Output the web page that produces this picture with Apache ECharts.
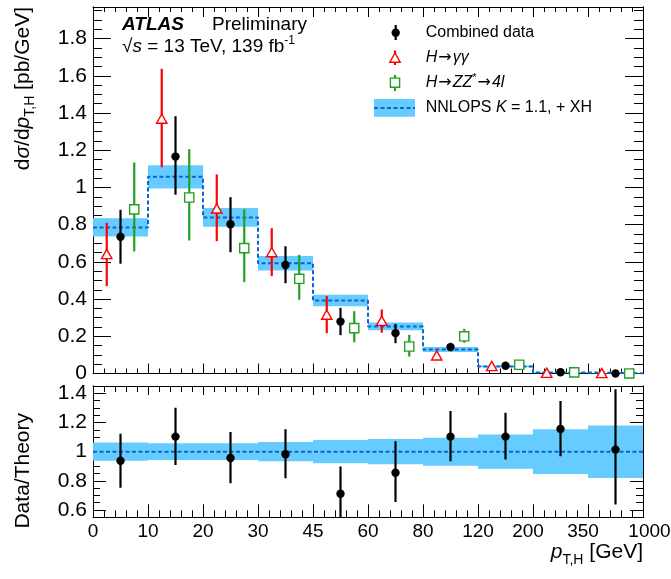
<!DOCTYPE html>
<html><head><meta charset="utf-8">
<script src="https://cdn.jsdelivr.net/npm/echarts@6/dist/echarts.min.js"></script>
<style>html,body{margin:0;padding:0;background:#fff}#c{width:671px;height:579px}</style>
</head><body><div id="c"></div>
<script>
// Bin edges (GeV) shown as equal-width bins
const edgeLabels = ['0','10','20','30','45','60','80','120','200','350','1000'];
// NNLOPS prediction (pb/GeV) and its uncertainty
const nnlops    = [0.785,1.057,0.839,0.593,0.392,0.253,0.129,0.038,0.006,0.0004];
const nnlopsErr = [0.049,0.062,0.050,0.039,0.031,0.021,0.013,0.005,0.001,0.0001];
// Combined data
const combined   = [0.735,1.166,0.802,0.583,0.279,0.217,0.142,0.042,0.007,0.0004];
const combinedLo = [0.590,0.961,0.652,0.485,0.206,0.163,0.121,0.036,0.0058,0.0003];
const combinedHi = [0.880,1.383,0.948,0.684,0.353,0.267,0.165,0.048,0.0081,0.0006];
// H -> gamma gamma
const gg   = [0.640,1.368,0.885,0.650,0.314,0.281,0.095,0.038,0.002,0.0002];
const ggLo = [0.470,1.109,0.711,0.523,0.217,0.219,0.082,0.031,0.001,0.0001];
const ggHi = [0.810,1.638,1.070,0.781,0.416,0.344,0.108,0.045,0.003,0.0003];
// H -> ZZ* -> 4l
const zz   = [0.882,0.946,0.674,0.509,0.244,0.145,0.200,0.047,0.006,0.0003];
const zzLo = [0.656,0.715,0.491,0.396,0.168,0.091,0.165,0.040,0.004,0.0002];
const zzHi = [1.134,1.206,0.883,0.638,0.335,0.208,0.240,0.054,0.008,0.0004];
// Ratio panel
const ratio     = [0.938,1.103,0.956,0.982,0.712,0.856,1.103,1.103,1.155,1.014];
const ratioLo   = [0.753,0.908,0.783,0.817,0.525,0.655,0.934,0.947,0.968,0.637];
const ratioHi   = [1.123,1.301,1.134,1.153,0.899,1.071,1.278,1.267,1.347,1.427];
const ratioBand = [0.062,0.057,0.058,0.066,0.080,0.087,0.096,0.117,0.153,0.180];
const mainTicks  = [0,0.2,0.4,0.6,0.8,1,1.2,1.4,1.6,1.8];
const ratioTicks = [0.6,0.8,1,1.2,1.4];

const FONT = "'Liberation Sans', Arial, Helvetica, sans-serif";
const BAND = '#66ccff', DASH = '#0a64d2', RED = '#ff0000', GREEN = '#22a022';

function marker(shape, cx, cy, color) {
  if (shape === 'circle') return {type:'circle', shape:{cx:cx, cy:cy, r:4.2}, style:{fill:color}};
  if (shape === 'triangle') return {type:'polygon', shape:{points:[[cx,cy-5],[cx-5.2,cy+4.2],[cx+5.2,cy+4.2]]}, style:{fill:'#fff', stroke:color, lineWidth:1.4}};
  return {type:'rect', shape:{x:cx-4.6, y:cy-4.6, width:9.2, height:9.2}, style:{fill:'#fff', stroke:color, lineWidth:1.4}};
}

function pointSeries(vals, lo, hi, off, shape, color, xi, yi, clip) {
  return {
    type:'custom', xAxisIndex:xi, yAxisIndex:yi, clip:clip, z:5,
    data: vals.map((v,i)=>[i+0.5+off, v, lo[i], hi[i]]),
    encode:{x:0, y:1},
    renderItem: function(params, api) {
      const x = api.value(0);
      const p = api.coord([x, api.value(1)]);
      const pl = api.coord([x, api.value(2)]);
      const ph = api.coord([x, api.value(3)]);
      return {type:'group', children:[
        {type:'line', shape:{x1:p[0], y1:pl[1], x2:p[0], y2:ph[1]}, style:{stroke:color, lineWidth:2.2}},
        marker(shape, p[0], p[1], color)
      ]};
    }
  };
}

function bandSeries(center, err, xi, yi, relative) {
  return {
    type:'custom', xAxisIndex:xi, yAxisIndex:yi, z:1, clip:true,
    data: center.map((v,i)=> relative ? [i, 1-err[i], 1+err[i]] : [i, v-err[i], v+err[i]]),
    encode:{x:0, y:[1,2]},
    renderItem: function(params, api) {
      const a = api.coord([api.value(0), api.value(2)]);
      const b = api.coord([api.value(0)+1, api.value(1)]);
      return {type:'rect', shape:{x:a[0], y:a[1], width:b[0]-a[0], height:Math.max(b[1]-a[1],0.8)}, style:{fill:BAND}};
    }
  };
}

const tickLine = {color:'#000', width:1};
function xAx(grid, pos, showLabel, major, minor) {
  return {
    type:'value', gridIndex:grid, position:pos, min:0, max:10, interval:1,
    axisLine:{show:true, onZero:false, lineStyle:{color:'#000', width:1}},
    axisTick:{show:true, inside:true, length:major, lineStyle:tickLine},
    minorTick:{show:true, splitNumber:5, length:minor, lineStyle:tickLine},
    splitLine:{show:false},
    axisLabel:{show:showLabel, showMinLabel:true, showMaxLabel:true, fontSize:19, fontFamily:FONT, color:'#000', margin:5,
      formatter: function(v){ const s = edgeLabels[Math.round(v)]; if (s==='200'||s==='350') return '{l|'+s+'}'; if (s==='1000') return '{r|'+s+'}'; return s; },
      rich:{
        l:{fontSize:19, fontFamily:FONT, color:'#000', padding:[0,10,0,0]},
        r:{fontSize:19, fontFamily:FONT, color:'#000', padding:[0,0,0,13]}
      }}
  };
}
function yMajor(grid, pos, showLabel, min, max, ticks, len) {
  return {
    type:'value', gridIndex:grid, position:pos, min:min, max:max, splitNumber:5,
    interval: min === 0 ? 0.2 : undefined,
    axisLine:{show:true, onZero:false, lineStyle:{color:'#000', width:1}},
    axisTick:{show:true, inside:true, length:len, lineStyle:tickLine, customValues:ticks},
    minorTick:{show:false},
    splitLine:{show:false},
    axisLabel:{show:showLabel, customValues:ticks, showMinLabel:true, showMaxLabel:true, fontSize:21, fontFamily:FONT, color:'#000', margin:6,
      formatter: function(v){ const r = Math.round(v*10)/10; return Math.abs(r-v) < 1e-6 && Math.abs(r*5 - Math.round(r*5)) < 1e-6 ? String(r) : ''; }}
  };
}
function yMinor(grid, pos, min, max, len) {
  return {
    type:'value', gridIndex:grid, position:pos, min:min, max:max, interval:0.05,
    axisLine:{show:true, onZero:false, lineStyle:{color:'#000', width:1}},
    axisTick:{show:true, inside:true, length:len, lineStyle:tickLine},
    splitLine:{show:false}, axisLabel:{show:false}
  };
}

const stepData = nnlops.map((v,i)=>[i,v]).concat([[10, nnlops[nnlops.length-1]]]);

const txt = (x, y, text, size, extra, rich) => ({
  type:'text', x:x, y:y, z:100,
  style:Object.assign({text:text, fontSize:size, fontFamily:FONT, fill:'#000', align:'left', verticalAlign:'middle', rich:rich}, extra||{})
});
const R = (size, o) => Object.assign({fontSize:size, fontFamily:FONT, fill:'#000'}, o||{});
const ARW = R(16, {fontFamily:"'DejaVu Sans', sans-serif", padding:[0,1,0,1]});

const graphics = [
  // ATLAS label
  txt(122, 25, 'ATLAS', 19, {fontStyle:'italic', fontWeight:'bold'}),
  txt(212, 25, 'Preliminary', 19),
  txt(122, 47, '√{i|s} = 13 TeV, 139 fb{sup|-1}', 19, {}, {i:R(19,{fontStyle:'italic'}), sup:R(12,{padding:[0,0,12,0]})}),
  // legend
  {type:'line', shape:{x1:395.7, y1:25, x2:395.7, y2:40}, style:{stroke:'#000', lineWidth:2.2}, z:100},
  Object.assign(marker('circle', 395.7, 32.7, '#000'), {z:101}),
  txt(425.7, 32.7, 'Combined data', 16),
  {type:'line', shape:{x1:395, y1:50.5, x2:395, y2:65}, style:{stroke:RED, lineWidth:2.2}, z:100},
  Object.assign(marker('triangle', 395, 58, RED), {z:101}),
  txt(425.7, 57.7, '{i|H}{a|→}{i|γγ}', 16, {}, {i:R(16,{fontStyle:'italic'}), a:ARW}),
  {type:'line', shape:{x1:395, y1:75, x2:395, y2:91}, style:{stroke:GREEN, lineWidth:2.2}, z:100},
  Object.assign(marker('square', 395, 82.7, GREEN), {z:101}),
  txt(425.7, 82.7, '{i|H}{a|→}{i|ZZ}{sup|*}{a|→}{i|4l}', 16, {}, {i:R(16,{fontStyle:'italic'}), a:ARW, sup:R(11,{padding:[0,0,10,0]})}),
  {type:'rect', shape:{x:374, y:99, width:41, height:17.7}, style:{fill:BAND}, z:100},
  {type:'line', shape:{x1:374, y1:108, x2:415, y2:108}, style:{stroke:DASH, lineWidth:2, lineDash:[4,2.5]}, z:101},
  txt(425.7, 107.7, 'NNLOPS {i|K} = 1.1, + XH', 16, {}, {i:R(16,{fontStyle:'italic'})}),
  // axis titles
  {type:'text', x:23, y:7, rotation:Math.PI/2, z:100,
    style:{text:'d{i|σ}/d{i|p}{sub|T,H} [pb/GeV]', fontSize:21, fontFamily:FONT, fill:'#000', align:'right', verticalAlign:'middle',
      rich:{i:R(21,{fontStyle:'italic'}), sub:R(14,{padding:[14,0,0,0]})}}},
  {type:'text', x:23, y:413, rotation:Math.PI/2, z:100,
    style:{text:'Data/Theory', fontSize:21, fontFamily:FONT, fill:'#000', align:'right', verticalAlign:'middle'}},
  {type:'text', x:643, y:552, z:100,
    style:{text:'{i|p}{sub|T,H} [GeV]', fontSize:21, fontFamily:FONT, fill:'#000', align:'right', verticalAlign:'middle',
      rich:{i:R(21,{fontStyle:'italic'}), sub:R(14,{padding:[16,0,0,0]})}}}
];

const option = {
  animation:false,
  backgroundColor:'#fff',
  grid:[
    {left:93, top:7, width:550, height:366.5, outerBoundsMode:'none', containLabel:false},
    {left:93, top:386, width:550, height:131.3, outerBoundsMode:'none', containLabel:false}
  ],
  xAxis:[
    xAx(0,'bottom',false,10,5),
    xAx(0,'top',false,10,5),
    xAx(1,'bottom',true,13,7),
    xAx(1,'top',false,9,6)
  ],
  yAxis:[
    yMajor(0,'left',true,0,1.97,mainTicks,18),
    yMinor(0,'left',0,1.97,9),
    yMajor(0,'right',false,0,1.97,mainTicks,18),
    yMinor(0,'right',0,1.97,9),
    yMajor(1,'left',true,0.55,1.45,ratioTicks,13),
    yMinor(1,'left',0.55,1.45,7),
    yMajor(1,'right',false,0.55,1.45,ratioTicks,13),
    yMinor(1,'right',0.55,1.45,7)
  ],
  series:[
    bandSeries(nnlops, nnlopsErr, 0, 0, false),
    {type:'line', xAxisIndex:0, yAxisIndex:0, data:stepData, step:'end', symbol:'none', z:2,
      lineStyle:{color:DASH, width:2, type:[4,2.5]}},
    pointSeries(gg, ggLo, ggHi, -0.25, 'triangle', RED, 0, 0, false),
    pointSeries(combined, combinedLo, combinedHi, 0, 'circle', '#000', 0, 0, false),
    pointSeries(zz, zzLo, zzHi, 0.25, 'square', GREEN, 0, 0, false),
    bandSeries(ratio, ratioBand, 2, 4, true),
    {type:'line', xAxisIndex:2, yAxisIndex:4, data:[[0,1],[10,1]], symbol:'none', z:2,
      lineStyle:{color:DASH, width:2, type:[4,2.5]}},
    pointSeries(ratio, ratioLo, ratioHi, 0, 'circle', '#000', 2, 4, true)
  ],
  graphic: graphics
};
const chart = echarts.init(document.getElementById('c'));
chart.setOption(option);
</script>
</body></html>
